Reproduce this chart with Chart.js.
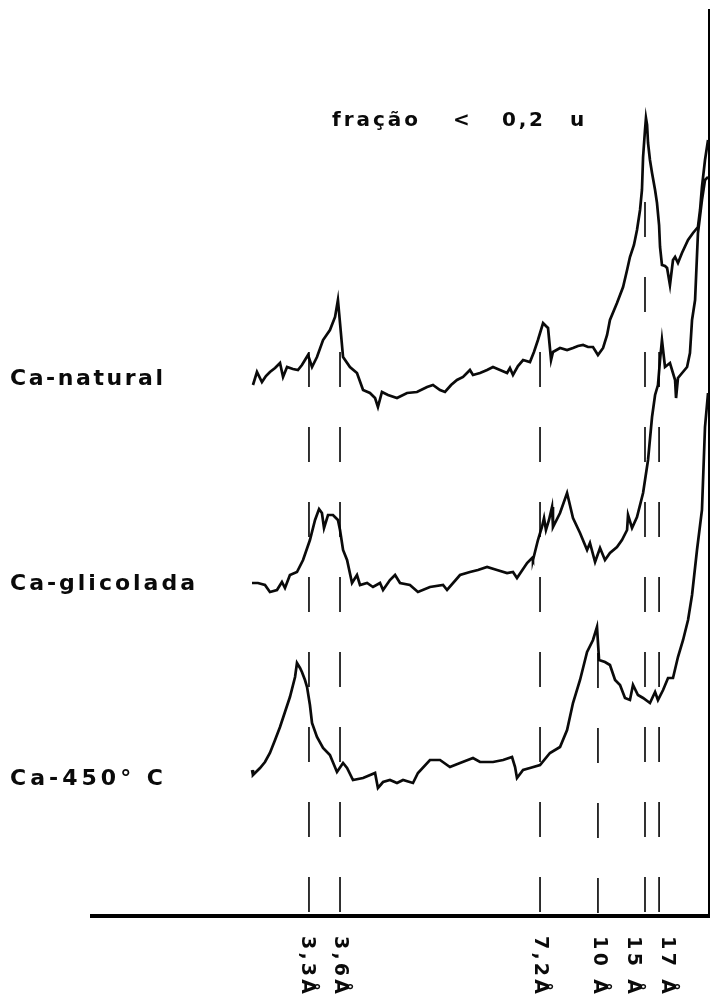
<!DOCTYPE html>
<html><head><meta charset="utf-8">
<script src="https://cdn.jsdelivr.net/npm/chart.js@4.4.1/dist/chart.umd.min.js"></script>
<style>html,body{margin:0;padding:0;background:#fff}#wrap{width:710px;height:1000px;position:relative}</style>
</head><body><div id="wrap"><canvas id="c" width="710" height="1000"></canvas></div>
<script>
// Series names (left labels)
const seriesNames = ['Ca-natural', 'Ca-glicolada', 'Ca-450° C'];
// Title words
const titleWords = ['fração', '<', '0,2', 'u'];
// Reference d-spacings: 2θ position, label, top of dashed guide (intensity units)
const refTwoTheta = [26.94, 25.00, 12.50, 8.88, 5.94, 5.06];
const refLabels = ['3,3Å', '3,6Å', '7,2Å', '10 Å', '15 Å', '17 Å'];
const refTop = [564, 564, 564, 263, 714, 564];

// Traces: [2θ (deg), intensity (arbitrary, offset per trace)]
const caNatural = [
[30.44,531],[30.19,544],[29.88,534],[29.63,540],[29.38,544],[29.06,548],[28.75,553],[28.56,539],[28.31,549],[27.94,547],
[27.63,546],[27.38,551],[27.19,556],[27.00,561],[26.75,549],[26.44,559],[26.06,576],[25.63,586],[25.31,599],[25.13,616],
[25.00,593],[24.81,559],[24.38,549],[23.94,543],[23.56,526],[23.13,523],[22.81,518],[22.63,509],[22.38,524],[22.00,521],
[21.44,518],[20.81,523],[20.19,524],[19.56,529],[19.19,531],[18.75,526],[18.44,524],[18.06,531],[17.69,536],[17.31,539],
[16.88,546],[16.69,541],[16.25,543],[15.81,546],[15.44,549],[15.00,546],[14.56,543],[14.38,548],[14.19,541],[13.88,550],
[13.56,556],[13.13,554],[12.88,564],[12.63,576],[12.31,593],[12.13,590],[12.00,588],[11.81,556],[11.69,564],[11.25,568],
[10.81,566],[10.44,568],[10.13,570],[9.81,571],[9.50,569],[9.19,569],[8.88,561],[8.56,568],[8.31,581],[8.13,596],
[7.69,613],[7.31,629],[7.06,646],[6.88,659],[6.63,671],[6.44,686],[6.25,706],[6.13,726],[6.06,759],[5.94,786],
[5.88,798],[5.81,791],[5.75,773],[5.63,756],[5.50,743],[5.31,726],[5.19,713],[5.06,691],[5.00,669],[4.88,651],
[4.69,650],[4.56,648],[4.38,631],[4.19,656],[4.06,659],[3.88,653],[3.63,663],[3.25,676],[2.94,683],[2.63,689],
[2.50,706],[2.38,729],[2.19,756],[2.00,776]
];
const caGlicolada = [
[30.50,333],[30.13,333],[29.69,331],[29.38,324],[28.94,326],[28.63,334],[28.44,328],[28.13,341],[27.69,344],[27.31,356],
[26.88,376],[26.56,396],[26.31,407],[26.13,403],[26.00,388],[25.75,401],[25.44,401],[25.13,396],[25.00,386],[24.81,366],
[24.56,356],[24.25,333],[23.94,341],[23.75,331],[23.31,333],[22.94,329],[22.50,333],[22.31,326],[21.88,336],[21.56,341],
[21.25,333],[20.63,331],[20.13,324],[19.38,329],[18.56,331],[18.31,326],[17.50,341],[16.88,344],[16.38,346],[15.81,349],
[15.19,346],[14.56,343],[14.19,344],[13.94,338],[13.31,353],[13.00,358],[12.94,356],[12.63,376],[12.38,389],[12.25,398],
[12.13,386],[11.94,396],[11.75,409],[11.69,389],[11.25,403],[10.81,423],[10.44,398],[10.00,383],[9.56,366],[9.38,373],
[9.06,354],[8.75,368],[8.44,356],[8.13,363],[7.69,369],[7.38,376],[7.06,386],[7.00,401],[6.75,388],[6.44,399],
[6.06,423],[5.75,456],[5.50,499],[5.31,521],[5.13,531],[5.00,556],[4.88,576],[4.69,549],[4.38,553],[4.06,536],
[4.00,518],[3.88,538],[3.31,549],[3.13,563],[3.00,596],[2.81,616],[2.63,683],[2.38,716],[2.19,736],[2.00,739]
];
const ca450 = [
[30.50,146],[30.44,141],[30.00,148],[29.69,154],[29.38,163],[29.06,176],[28.75,189],[28.44,204],[28.13,219],[27.81,239],
[27.69,253],[27.50,248],[27.38,244],[27.19,236],[27.06,229],[26.88,211],[26.75,193],[26.44,179],[26.06,168],[25.63,161],
[25.19,144],[24.81,153],[24.56,148],[24.19,136],[23.56,138],[22.81,143],[22.63,128],[22.31,134],[21.88,136],[21.44,133],
[21.06,136],[20.44,133],[20.13,143],[19.38,156],[18.75,156],[18.13,149],[17.50,153],[16.69,158],[16.25,154],[15.44,154],
[14.81,156],[14.25,159],[14.06,149],[13.94,138],[13.56,146],[13.13,148],[12.50,151],[11.88,163],[11.25,169],[10.81,186],
[10.44,213],[10.00,236],[9.56,264],[9.19,276],[8.94,289],[8.81,256],[8.44,254],[8.13,251],[7.81,236],[7.50,231],
[7.19,218],[6.88,216],[6.69,231],[6.38,221],[6.06,218],[5.63,213],[5.31,224],[5.13,216],[4.81,226],[4.50,238],
[4.19,238],[3.88,259],[3.56,276],[3.25,296],[3.00,321],[2.69,366],[2.38,406],[2.19,489],[2.00,523]
];

const toXY = arr => arr.map(p => ({x: p[0], y: p[1]}));
const traceStyle = {borderColor: '#0a0a0a', borderWidth: 2.7, pointRadius: 0, tension: 0, fill: false};

const datasets = [];
refTwoTheta.forEach((t, i) => {
  datasets.push({
    label: refLabels[i],
    data: [{x: t, y: refTop[i]}, {x: t, y: 0}],
    borderColor: '#000', borderWidth: 1.6, borderDash: [35, 40], pointRadius: 0, tension: 0
  });
});
[caNatural, caGlicolada, ca450].forEach((s, i) => {
  datasets.push(Object.assign({label: seriesNames[i], data: toXY(s)}, traceStyle));
});

function spacedText(ctx, text, x, y, target) {
  const chars = Array.from(text);
  const widths = chars.map(c => ctx.measureText(c).width);
  const total = widths.reduce((a, b) => a + b, 0);
  const sp = chars.length > 1 ? (target - total) / (chars.length - 1) : 0;
  let cx = x;
  chars.forEach((c, i) => { ctx.fillText(c, cx, y); cx += widths[i] + sp; });
}

const FONT = '"DejaVu Sans", Lato, sans-serif';
const annot = {
  id: 'annot',
  afterDraw(chart) {
    const ctx = chart.ctx;
    const xs = chart.scales.x;
    ctx.save();
    ctx.fillStyle = '#0a0a0a';
    ctx.textAlign = 'left';
    ctx.textBaseline = 'alphabetic';
    // title
    ctx.font = 'bold 20px ' + FONT;
    const tPos = [[332, 86], [453, 20], [502, 41], [570, 12]];
    titleWords.forEach((w, i) => spacedText(ctx, w, tPos[i][0], 126, tPos[i][1]));
    // series labels
    ctx.font = 'bold 22px ' + FONT;
    const lPos = [[385, 153], [590, 185], [785, 153]];
    seriesNames.forEach((n, i) => spacedText(ctx, n, 10, lPos[i][0], lPos[i][1]));
    // rotated tick labels
    ctx.font = 'bold 19px ' + FONT;
    ctx.textBaseline = 'middle';
    const offs = [-2, 0, 0, 1, -12, 8];
    refTwoTheta.forEach((t, i) => {
      const px = xs.getPixelForValue(t) + offs[i];
      ctx.save();
      ctx.translate(px, 936);
      ctx.rotate(Math.PI / 2);
      spacedText(ctx, refLabels[i], 0, 0, 58);
      ctx.restore();
    });
    ctx.restore();
  }
};

new Chart(document.getElementById('c'), {
  type: 'line',
  data: {datasets},
  options: {
    responsive: false, animation: false, devicePixelRatio: 1,
    layout: {padding: {left: 92, top: 10, right: 1, bottom: 84}},
    plugins: {legend: {display: false}, tooltip: {enabled: false}, title: {display: false}},
    scales: {
      x: {type: 'linear', reverse: true, min: 1.94, max: 40.5,
          grid: {display: false, drawTicks: false}, ticks: {display: false},
          border: {display: true, color: '#000', width: 4}},
      y: {type: 'linear', position: 'right', min: 0, max: 906,
          grid: {display: false, drawTicks: false}, ticks: {display: false},
          border: {display: true, color: '#000', width: 2}}
    }
  },
  plugins: [annot]
});
</script></body></html>
